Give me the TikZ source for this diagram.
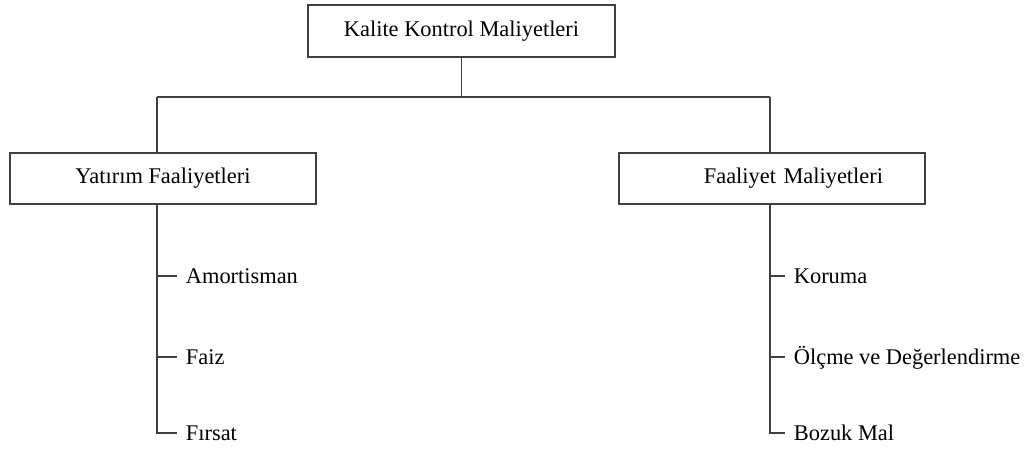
\documentclass[tikz,border=0pt]{standalone}
\usepackage{fontspec}
\setmainfont{Liberation Serif}
\usetikzlibrary{calc}

\begin{document}
\begin{tikzpicture}[x=0.5pt,y=-0.5pt,line width=0.9pt,draw=black!75,
  box/.style={draw,minimum width=153pt,minimum height=25.5pt,inner sep=0pt,
    font=\fontsize{11.2}{13}\selectfont},
  item/.style={anchor=west,inner xsep=4pt,inner ysep=0pt,text height=7.4pt,
    text depth=0pt,font=\fontsize{11.2}{13}\selectfont}]
  \useasboundingbox (0,0) rectangle (1032,449);
  \node[box,minimum width=153.5pt,minimum height=26pt] (K) at (461.5,31) {Kalite Kontrol Maliyetleri};
  \node[box] (Y) at (163,178.5) {Yatırım Faaliyetleri};
  \node[box,text width=111pt,align=right,inner xsep=21pt] (F) at (772,178.5) {Faaliyet Maliyetleri};
  \node[item] (Y1) at (177,276) {Amortisman};
  \node[item] (Y2) at (177,357) {Faiz};
  \node[item] (Y3) at (177,433) {Fırsat};
  \node[item] (F1) at (785,276) {Koruma};
  \node[item] (F2) at (785,357) {Ölçme ve Değerlendirme};
  \node[item] (F3) at (785,433) {Bozuk Mal};
  \coordinate (yl) at (157,97);
  \coordinate (fl) at (770,97);
  \draw (K.south) -- (K.south |- yl);
  \draw (yl) -- (fl);
  \draw (yl) -- (yl |- Y.north);
  \draw (fl) -- (fl |- F.north);
  \draw (yl |- Y.south) -- (yl |- Y3.west) -- (Y3.west);
  \draw (fl |- F.south) -- (fl |- F3.west) -- (F3.west);
  \foreach \n in {Y1,Y2} \draw (yl |- \n.west) -- (\n.west);
  \foreach \n in {F1,F2} \draw (fl |- \n.west) -- (\n.west);
\end{tikzpicture}
\end{document}
